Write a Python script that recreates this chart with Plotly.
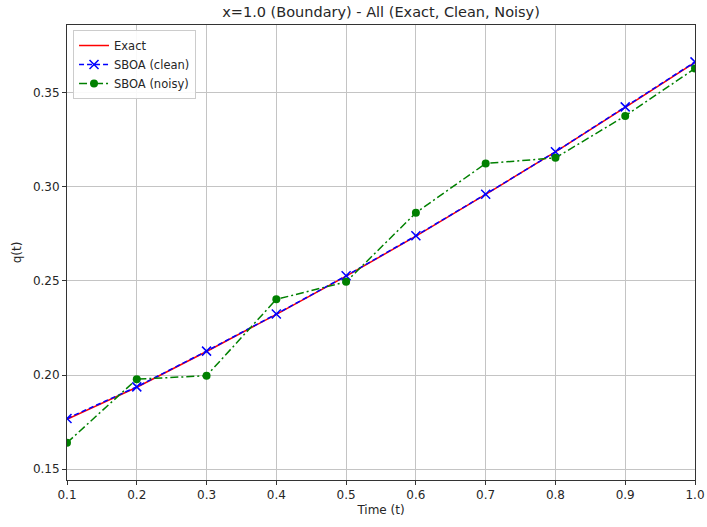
import plotly.graph_objects as go

t = [0.1, 0.2, 0.3, 0.4, 0.5, 0.6, 0.7, 0.8, 0.9, 1.0]
exact = [0.1765, 0.1935, 0.2125, 0.2322, 0.2525, 0.2738, 0.2960, 0.3186, 0.3422, 0.3662]
sboa_clean = [0.1769, 0.1937, 0.2127, 0.2324, 0.2527, 0.2740, 0.2961, 0.3186, 0.3425, 0.3664]
sboa_noisy = [0.1640, 0.1978, 0.1996, 0.2402, 0.2495, 0.2862, 0.3124, 0.3154, 0.3377, 0.3629]

x_ticks = [0.1, 0.2, 0.3, 0.4, 0.5, 0.6, 0.7, 0.8, 0.9, 1.0]
y_ticks = [0.15, 0.20, 0.25, 0.30, 0.35]

font = "DejaVu Sans, sans-serif"
txt = "#262626"

fig = go.Figure()
fig.add_trace(go.Scatter(x=t, y=exact, mode="lines", name="Exact",
                         line=dict(color="red", width=1.5)))
fig.add_trace(go.Scatter(x=t, y=sboa_clean, mode="lines+markers", name="SBOA (clean)",
                         line=dict(color="blue", width=1.5, dash="5px,3px"),
                         marker=dict(symbol="x-thin-open", size=9,
                                     line=dict(color="blue", width=1.5), color="blue")))
fig.add_trace(go.Scatter(x=t, y=sboa_noisy, mode="lines+markers", name="SBOA (noisy)",
                         line=dict(color="green", width=1.5, dash="8px,3px,2px,3px"),
                         marker=dict(symbol="circle", size=8, color="green")))

axis_common = dict(
    showline=True, linecolor="#333333", linewidth=1, mirror=True,
    showgrid=True, gridcolor="#c4c4c4", gridwidth=1,
    ticks="outside", ticklen=4, tickcolor="#333333",
    tickfont=dict(family=font, size=12, color=txt),
    zeroline=False, automargin=False,
)

W, H = 707, 527
L, R, T, B = 67, 12, 25, 47

fig.update_layout(
    width=W, height=H,
    margin=dict(l=L, r=R, t=T, b=B),
    paper_bgcolor="white", plot_bgcolor="white",
    title=dict(text="x=1.0 (Boundary) - All (Exact, Clean, Noisy)",
               x=(L + W - R) / 2 / W, xanchor="center", y=1 - 12 / H, yanchor="middle",
               font=dict(family=font, size=14.5, color=txt)),
    xaxis=dict(range=[0.1, 1.0], tickvals=x_ticks,
               ticktext=[f"{v:.1f}" for v in x_ticks],
               title=dict(text="Time (t)", font=dict(family=font, size=12, color=txt),
                          standoff=4),
               **axis_common),
    yaxis=dict(range=[0.1442, 0.386], tickvals=y_ticks,
               ticktext=[f"{v:.2f}" for v in y_ticks],
               title=dict(text="q(t)", font=dict(family=font, size=12, color=txt),
                          standoff=8),
               **axis_common),
    legend=dict(x=0.0096, y=0.989, xanchor="left", yanchor="top",
                bgcolor="rgba(255,255,255,0.9)", bordercolor="#cccccc", borderwidth=1,
                font=dict(family=font, size=11.5, color=txt),
                tracegroupgap=0, itemwidth=30),
    showlegend=True,
)

fig.write_html("out.html", config={"displayModeBar": False},
               post_script="document.body.style.margin='0';")
